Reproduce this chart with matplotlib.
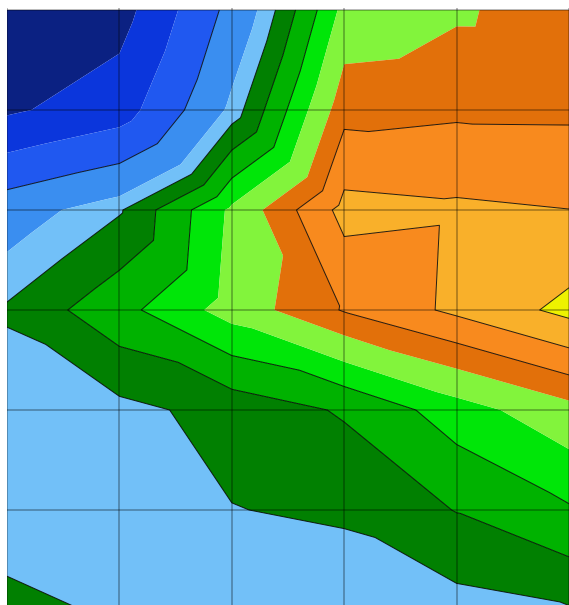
import numpy as np
import matplotlib
matplotlib.use("Agg")
import matplotlib.pyplot as plt
import matplotlib.tri as mtri

# grid node positions (columns, rows)
x_nodes = [0, 1, 2, 3, 4, 5]
y_nodes = [0, 1, 2, 3, 4, 5, 6]

# values at the grid nodes, one list per row (top row first)
row0 = [0.40, 0.33, 4.75, 9.05, 9.51, 10.10]
row1 = [0.76, 1.87, 6.00, 10.12, 10.24, 10.23]
row2 = [5.15, 6.34, 8.96, 11.41, 11.28, 11.16]
row3 = [6.53, 7.75, 9.14, 10.43, 11.32, 12.24]
row4 = [5.89, 6.21, 6.68, 7.28, 8.44, 9.36]
row5 = [5.95, 6.08, 6.40, 6.53, 7.22, 7.93]
row6 = [6.66, 6.30, 6.08, 5.94, 6.13, 6.35]

# contour levels (boundaries between colour bands)
levels = [1.00, 2.64, 4.26, 5.73, 6.42, 7.19, 8.02, 8.80, 9.63, 10.37, 11.15, 12.00]
band_colors = ['#0b2182', '#0b36dc', '#2058f0', '#3a8ef0', '#72c0f8', '#018001', '#00b200',
               '#00e608', '#82f43c', '#e2700a', '#f88a1e', '#f9b02a', '#eef200']
# levels that carry a thin black contour line
lined_levels = [levels[2], levels[4], levels[5], levels[6], levels[9], levels[10], levels[11]]
# cells split along the bottom-left / top-right diagonal (others: top-left / bottom-right)
flipped_cells = [(0, 0), (3, 2), (4, 2)]

Z = np.array([row0, row1, row2, row3, row4, row5, row6])
NY, NX = Z.shape

fig = plt.figure(figsize=(5.69, 6.05), dpi=100)
ax = fig.add_axes([7 / 569, 0, 562 / 569, 597 / 605])

gx, gy = np.meshgrid(x_nodes, y_nodes)
tris = []
for j in range(NY - 1):
    for i in range(NX - 1):
        a = j * NX + i; b = a + 1; e = a + NX; d = e + 1
        if (i, j) in flipped_cells:
            tris += [[a, e, b], [e, d, b]]
        else:
            tris += [[a, b, d], [a, d, e]]
tri = mtri.Triangulation(gx.ravel().astype(float), gy.ravel().astype(float), tris)
zz = Z.ravel()

ax.tricontourf(tri, zz, levels=[-100] + levels + [100], colors=band_colors, antialiased=True)
ax.tricontour(tri, zz, levels=lined_levels, colors='black', linewidths=0.7, alpha=0.85)

for xv in x_nodes:
    ax.axvline(xv, color='black', alpha=0.35, lw=1.1)
for yv in y_nodes:
    ax.axhline(yv, color='black', alpha=0.35, lw=1.1)

ax.set_xlim(0, 5)
ax.set_ylim(5.95, -0.02)
ax.set_xticks([]); ax.set_yticks([])
for s in ax.spines.values():
    s.set_visible(False)
fig.savefig('out.png', dpi=100)
